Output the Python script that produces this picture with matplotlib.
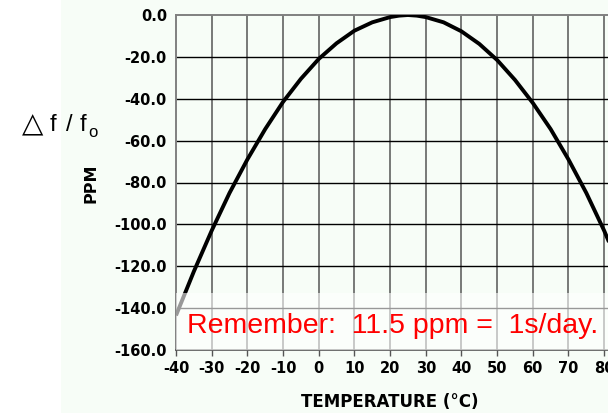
import matplotlib
matplotlib.use("Agg")
import matplotlib.pyplot as plt
from matplotlib.patches import Rectangle

# data
temperature_c = [-40, -35, -30, -25, -20, -15, -10, -5, 0, 5, 10, 15, 20, 22.5,
                 25, 27.5, 30, 35, 40, 45, 50, 55, 60, 65, 70, 75, 80, 85]
delta_ppm = [-143.5, -122.5, -103.0, -85.0, -69.0, -54.5, -41.5, -30.5, -21.0,
             -13.5, -7.5, -3.5, -1.0, -0.3, 0.0, -0.3, -1.0, -3.5, -7.8, -13.8,
             -21.5, -31.0, -42.0, -54.5, -69.0, -85.0, -103.0, -123.0]
x_ticks = [-40, -30, -20, -10, 0, 10, 20, 30, 40, 50, 60, 70, 80]
y_ticks = [0, -20, -40, -60, -80, -100, -120, -140, -160]
note_text = "Remember:  11.5 ppm =  1s/day."

W, H = 608, 413
BG = "#f7fdf7"
fig = plt.figure(figsize=(W / 100, H / 100), dpi=100, facecolor=BG)
fig.patches.append(Rectangle((0, 0), 61 / W, 1, transform=fig.transFigure,
                             facecolor="white", edgecolor="none", zorder=0))

left, right, top, bottom = 176, 622, 15, 350
ax = fig.add_axes([left / W, (H - bottom) / H, (right - left) / W, (bottom - top) / H])
ax.set_facecolor(BG)
ax.set_xlim(-40, 85)
ax.set_ylim(-160, 0)

ax.set_xticks(x_ticks)
ax.set_xticklabels([str(t) for t in x_ticks])
ax.set_yticks(y_ticks)
ax.set_yticklabels(["%.1f" % t for t in y_ticks])

for t in x_ticks[1:]:
    ax.axvline(t, color="#555555", lw=1.1, zorder=1)
for t in y_ticks[1:-1]:
    ax.axhline(t, color="#000000", lw=1.0, zorder=1)

ax.plot(temperature_c, delta_ppm, color="black", lw=2.8, zorder=3,
        solid_capstyle="butt", solid_joinstyle="round")

# semi transparent note box
ax.add_patch(Rectangle((-40, -160), 125, 27.3, facecolor="white", alpha=0.6,
                       edgecolor="none", zorder=4))
ax.text(-36.9, -151.9, note_text, color="red", fontsize=20.5,
        family="Liberation Sans", va="baseline", ha="left", zorder=5)

for s in ["top", "left"]:
    ax.spines[s].set_color("#808080")
    ax.spines[s].set_linewidth(1.4)
ax.spines["bottom"].set_color("#555555")
ax.spines["bottom"].set_linewidth(1.2)
ax.spines["right"].set_visible(False)

ax.tick_params(axis="y", length=0, pad=6.5)
ax.tick_params(axis="x", length=4, width=1, color="#555555", pad=4)
for lab in ax.get_xticklabels() + ax.get_yticklabels():
    lab.set_fontweight("bold")
    lab.set_fontsize(10.5)
    lab.set_family("DejaVu Sans")

fig.text(390 / W, 1 - 402 / H, "TEMPERATURE (°C)", fontsize=12, fontweight="bold",
         family="DejaVu Sans", ha="center", va="center")
fig.text(91 / W, 1 - 183 / H, "PPM", fontsize=11.5, fontweight="bold",
         family="DejaVu Sans", rotation=90, ha="center", va="center")

# "Δ f / fo" label, placed piece by piece
base = 1 - 131 / H
fig.text(22 / W, 1 - 132 / H, "\u25b3", fontsize=20, family="DejaVu Sans",
         ha="left", va="baseline")
fig.text(50 / W, base, "f", fontsize=17, family="Liberation Sans",
         ha="left", va="baseline")
fig.text(66 / W, base, "/", fontsize=17, family="Liberation Sans",
         ha="left", va="baseline")
fig.text(80 / W, base, "f", fontsize=17, family="Liberation Sans",
         ha="left", va="baseline")
fig.text(88 / W, 1 - 137 / H, "o", fontsize=12, family="Liberation Sans",
         ha="left", va="baseline")

fig.savefig("out.png", dpi=100, facecolor=BG)
